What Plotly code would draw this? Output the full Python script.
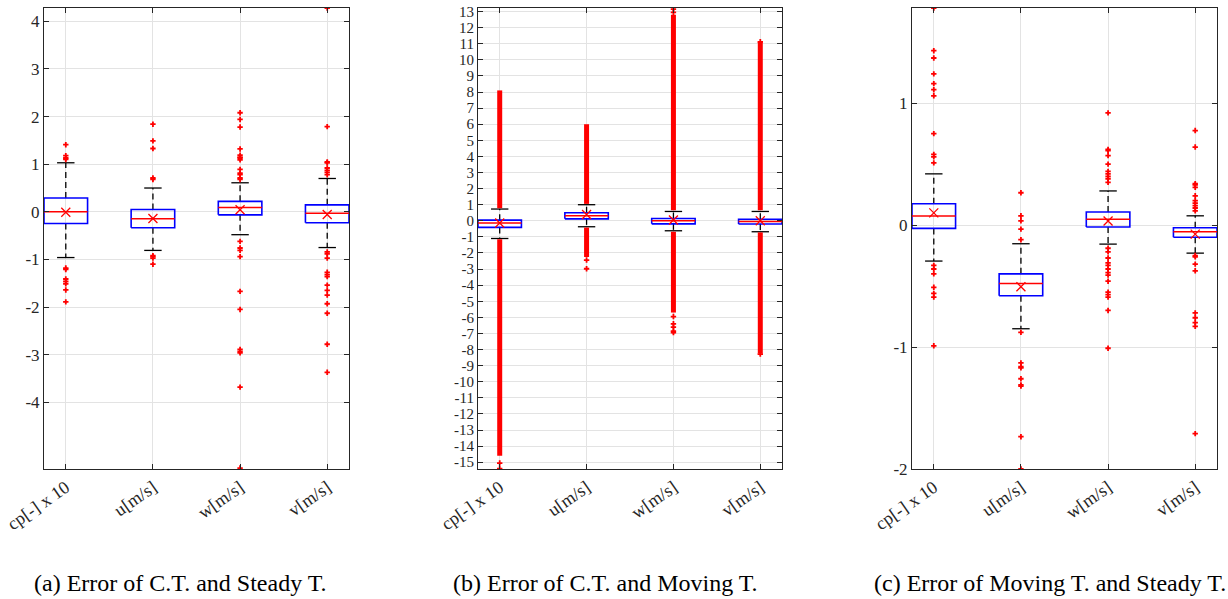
import plotly.graph_objects as go

categories = ["cp[-] x 10", "u[m/s]", "w[m/s]", "v[m/s]"]
cat_pos = [1, 2, 3, 4]
captions = ["(a) Error of C.T. and Steady T.",
            "(b) Error of C.T. and Moving T.",
            "(c) Error of Moving T. and Steady T."]

# ---------------- panel (a) ----------------
a_q1 = [-0.245, -0.335, -0.063, -0.23]
a_median = [0.0, -0.147, 0.09, -0.03]
a_q3 = [0.29, 0.05, 0.22, 0.147]
a_lower = [-0.96, -0.81, -0.48, -0.75]
a_upper = [1.03, 0.50, 0.61, 0.70]
a_mean = [-0.01, -0.14, 0.045, -0.056]
a_out_cp = [1.41, 1.18, 1.13, 1.10, -1.18, -1.21, -1.41, -1.46, -1.51, -1.64, -1.89]
a_out_u = [1.84, 1.49, 1.33, 0.71, 0.68, -0.92, -0.94, -0.97, -1.10]
a_out_w = [2.08, 1.94, 1.78, 1.32, 1.19, 1.15, 1.13, 1.09, 0.89, 0.81, 0.78, 0.71, 0.68,
           -0.62, -0.76, -0.81, -0.94, -1.67, -2.05, -2.89, -2.93, -2.96, -3.68, -5.38]
a_out_v = [4.28, 1.79, 1.05, 1.03, 0.92, 0.87, 0.83, 0.78,
           -0.84, -0.88, -0.97, -1.27, -1.32, -1.36, -1.54, -1.65, -1.75, -1.93, -2.13, -2.78, -3.37]

# ---------------- panel (b) ----------------
b_q1 = [-0.41, 0.12, -0.19, -0.2]
b_median = [-0.14, 0.31, 0.0, -0.04]
b_q3 = [0.04, 0.5, 0.14, 0.1]
b_lower = [-1.1, -0.37, -0.62, -0.68]
b_upper = [0.73, 1.0, 0.58, 0.58]
b_mean = [-0.14, 0.39, 0.05, 0.0]
# dense outlier runs (thousands of points merge into a solid column)
b_run_cat = [1, 1, 2, 2, 3, 3, 4, 4]
b_run_start = [0.78, -1.15, 1.05, -0.42, 0.65, -0.68, 0.65, -0.72]
b_run_end = [8.1, -14.6, 6.0, -2.25, 12.8, -5.7, 11.1, -8.25]
b_out_cp = [-15.05, -15.4]
b_out_u = [-2.44, -2.98]
b_out_w = [12.95, 13.15, -5.95, -6.4, -6.6, -6.85, -6.95]
b_out_v = [11.12, -8.28]

# ---------------- panel (c) ----------------
c_q1 = [-0.027, -0.58, -0.016, -0.10]
c_median = [0.074, -0.48, 0.047, -0.055]
c_q3 = [0.175, -0.40, 0.107, -0.022]
c_lower = [-0.295, -0.85, -0.156, -0.23]
c_upper = [0.42, -0.153, 0.28, 0.076]
c_mean = [0.10, -0.506, 0.033, -0.074]
c_out_cp = [1.78, 1.43, 1.37, 1.24, 1.16, 1.11, 1.06, 0.75, 0.58, 0.56, 0.51,
            -0.33, -0.36, -0.40, -0.51, -0.56, -0.59, -0.99]
c_out_u = [0.265, 0.076, 0.035, -0.033, -0.12,
           -0.88, -1.13, -1.16, -1.17, -1.26, -1.31, -1.32, -1.735, -2.0]
c_out_w = [0.92, 0.62, 0.61, 0.57, 0.50, 0.44, 0.42, 0.40, 0.38, 0.35,
           -0.19, -0.22, -0.27, -0.31, -0.33, -0.36, -0.39, -0.41, -0.46,
           -0.55, -0.57, -0.59, -0.70, -1.01]
c_out_v = [0.775, 0.64, 0.34, 0.33, 0.31, 0.24, 0.20, 0.18, 0.16, 0.14, 0.117,
           -0.25, -0.26, -0.32, -0.375, -0.72, -0.76, -0.80, -0.83, -1.71]

# y ticks
a_yticks = [-4, -3, -2, -1, 0, 1, 2, 3, 4]
b_yticks = list(range(-15, 14))
c_yticks = [-2, -1, 0, 1]
y_ranges = [[-5.4, 4.28], [-15.42, 13.22], [-2.0, 1.78]]
ytick_sizes = [17, 15, 17]

panels = [
    dict(q1=a_q1, med=a_median, q3=a_q3, lo=a_lower, hi=a_upper, mean=a_mean,
         outs=[a_out_cp, a_out_u, a_out_w, a_out_v], runs=None, yt=a_yticks),
    dict(q1=b_q1, med=b_median, q3=b_q3, lo=b_lower, hi=b_upper, mean=b_mean,
         outs=[b_out_cp, b_out_u, b_out_w, b_out_v],
         runs=(b_run_cat, b_run_start, b_run_end), yt=b_yticks),
    dict(q1=c_q1, med=c_median, q3=c_q3, lo=c_lower, hi=c_upper, mean=c_mean,
         outs=[c_out_cp, c_out_u, c_out_w, c_out_v], runs=None, yt=c_yticks),
]

W, H = 1228, 599
x_px = [(44, 349), (478, 782), (912, 1217)]
y_top, y_bot = 8, 469
caption_x = [180, 605, 1050]

BLUE = "#0000ff"
RED = "#ff0000"
HALF = 0.25
CAP = 0.1

fig = go.Figure()
for i, p in enumerate(panels):
    xa = "x" if i == 0 else f"x{i+1}"
    ya = "y" if i == 0 else f"y{i+1}"

    wx, wy = [], []
    cx, cy = [], []
    bx, by = [], []
    mx, my = [], []
    for k, c in enumerate(cat_pos):
        wx += [c, c, None, c, c, None]
        wy += [p["q3"][k], p["hi"][k], None, p["q1"][k], p["lo"][k], None]
        cx += [c - CAP, c + CAP, None, c - CAP, c + CAP, None]
        cy += [p["hi"][k], p["hi"][k], None, p["lo"][k], p["lo"][k], None]
        bx += [c - HALF, c + HALF, c + HALF, c - HALF, c - HALF, None]
        by += [p["q1"][k], p["q1"][k], p["q3"][k], p["q3"][k], p["q1"][k], None]
        mx += [c - HALF, c + HALF, None]
        my += [p["med"][k], p["med"][k], None]
    fig.add_trace(go.Scatter(x=wx, y=wy, mode="lines", xaxis=xa, yaxis=ya,
                             line=dict(color="black", width=1.3, dash="6px,4px"),
                             hoverinfo="skip", showlegend=False))
    fig.add_trace(go.Scatter(x=cx, y=cy, mode="lines", xaxis=xa, yaxis=ya,
                             line=dict(color="black", width=1.3),
                             hoverinfo="skip", showlegend=False))

    if p["runs"] is not None:
        rc, rs, re_ = p["runs"]
        rx, ry = [], []
        for k in range(len(rc)):
            rx += [rc[k], rc[k], None]
            ry += [rs[k], re_[k], None]
        fig.add_trace(go.Scatter(x=rx, y=ry, mode="lines", xaxis=xa, yaxis=ya,
                                 line=dict(color=RED, width=5),
                                 hoverinfo="skip", showlegend=False))

    ox, oy = [], []
    for k, c in enumerate(cat_pos):
        ox += [c] * len(p["outs"][k])
        oy += p["outs"][k]
    fig.add_trace(go.Scatter(x=ox, y=oy, mode="markers", xaxis=xa, yaxis=ya,
                             marker=dict(symbol="cross", size=4.5, color=RED, line=dict(width=0)),
                             showlegend=False))

    fig.add_trace(go.Scatter(x=bx, y=by, mode="lines", xaxis=xa, yaxis=ya,
                             line=dict(color=BLUE, width=1.6),
                             hoverinfo="skip", showlegend=False))
    fig.add_trace(go.Scatter(x=mx, y=my, mode="lines", xaxis=xa, yaxis=ya,
                             line=dict(color=RED, width=1.5),
                             hoverinfo="skip", showlegend=False))
    fig.add_trace(go.Scatter(x=cat_pos, y=p["mean"], mode="markers", xaxis=xa, yaxis=ya,
                             marker=dict(symbol="x-thin", size=9, color=RED,
                                         line=dict(color=RED, width=1.3)),
                             showlegend=False))

    x0, x1 = x_px[i]
    common = dict(showline=True, linecolor="#262626", linewidth=1, mirror="ticks",
                  ticks="inside", ticklen=5, tickcolor="#262626", automargin=False,
                  showgrid=True, gridcolor="#e3e3e3", gridwidth=1, zeroline=False)
    fig.update_layout(**{
        ("xaxis" if i == 0 else f"xaxis{i+1}"): dict(
            domain=[x0 / W, x1 / W], anchor=ya, range=[0.75, 4.25],
            tickvals=cat_pos, ticktext=categories, tickangle=-35,
            tickfont=dict(family="Liberation Serif", size=18, color="#262626"),
            **common),
        ("yaxis" if i == 0 else f"yaxis{i+1}"): dict(
            domain=[(H - y_bot) / H, (H - y_top) / H], anchor=xa, range=y_ranges[i],
            tickvals=p["yt"], ticktext=[str(v) for v in p["yt"]],
            tickfont=dict(family="Liberation Serif", size=ytick_sizes[i], color="#262626"),
            **common),
    })
    fig.add_annotation(text=captions[i], xref="paper", yref="paper",
                       x=caption_x[i] / W, y=(H - 583) / H, showarrow=False,
                       xanchor="center", yanchor="middle",
                       font=dict(family="Liberation Serif", size=24, color="black"))

fig.update_layout(width=W, height=H, autosize=False,
                  margin=dict(l=0, r=0, t=0, b=0),
                  paper_bgcolor="white", plot_bgcolor="white")
fig.write_html("out.html", config={"displayModeBar": False},
               post_script="document.body.style.margin='0px';document.body.style.padding='0px';")
